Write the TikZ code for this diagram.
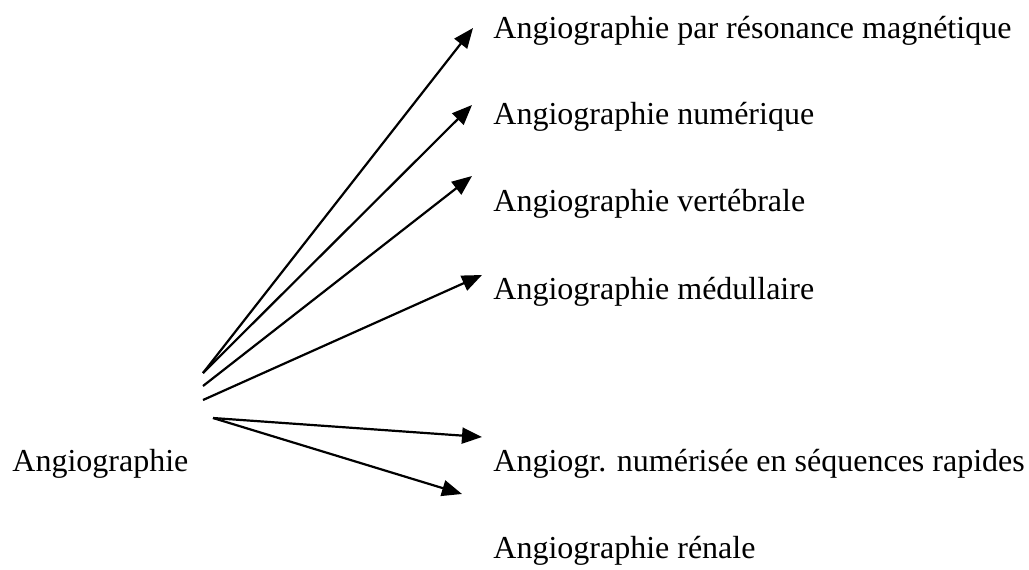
\documentclass[tikz,border=0pt]{standalone}
\usepackage{fontspec}
\setmainfont{Liberation Serif}
\usetikzlibrary{arrows.meta}

\begin{document}
\begin{tikzpicture}[x=0.5pt,y=-0.5pt,
    term/.style={anchor=base west,inner sep=0pt,font=\fontsize{16}{19}\selectfont},
    link/.style={line width=1.1pt,-{Triangle[length=10pt,width=8pt]}}]
  \useasboundingbox (0,0) rectangle (1029,569);
  % labels
  \node[term] (root) at (12,471) {Angiographie};
  \node[term] (arm) at (493,38) {Angiographie par résonance magnétique};
  \node[term] (num) at (493,124) {Angiographie numérique};
  \node[term] (vert) at (493,211) {Angiographie vertébrale};
  \node[term] (med) at (493,299) {Angiographie médullaire};
  \node[term] (ansr) at (493,471) {Angiogr. numérisée en séquences rapides};
  \node[term] (ren) at (493,558) {Angiographie rénale};
  % start and tip points
  \coordinate (s1) at (203,373);
  \coordinate (s2) at (203,386);
  \coordinate (s3) at (203,400);
  \coordinate (s4) at (213,418);
  \coordinate (t1) at (473,28);
  \coordinate (t2) at (472,105);
  \coordinate (t3) at (472,176);
  \coordinate (t4) at (482,275);
  \coordinate (t5) at (482,437);
  \coordinate (t6) at (462,494);
  \draw[link] (s1) -- (t1);
  \draw[link] (s1) -- (t2);
  \draw[link] (s2) -- (t3);
  \draw[link] (s3) -- (t4);
  \draw[link] (s4) -- (t5);
  \draw[link] (s4) -- (t6);
\end{tikzpicture}
\end{document}
